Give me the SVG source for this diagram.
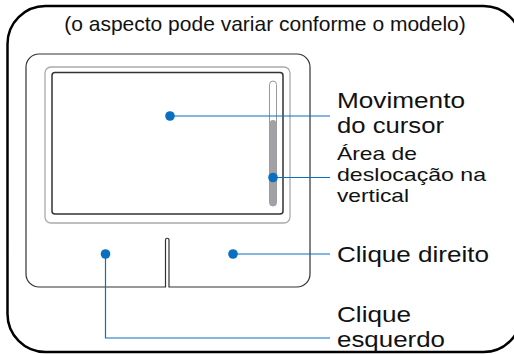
<svg xmlns="http://www.w3.org/2000/svg" width="514" height="354" viewBox="0 0 514 354">
<style>
.t{font-family:"Liberation Sans",Arial,sans-serif;fill:#111}
.big{font-size:22px}
.mid{font-size:18.5px}
.top{font-size:21px}
.c{stroke:#0b6fc0;stroke-width:1.2;fill:none}
.d{fill:#0b6fc0}
</style>
<rect x="0" y="0" width="514" height="354" fill="#fff"/>
<g id="frame">
<rect x="7.5" y="6" width="514" height="346" rx="38" fill="none" stroke="#000" stroke-width="2.5"/>
</g>
<text class="t top" x="265" y="31" text-anchor="middle">(o aspecto pode variar conforme o modelo)</text>
<g id="touchpad">
<path d="M165.5,287 V240 A1.75,1.75 0 0 1 169,240 V287 H297 A13,13 0 0 0 310,274 V67 A13,13 0 0 0 297,54 H39 A13,13 0 0 0 26,67 V274 A13,13 0 0 0 39,287 Z" fill="none" stroke="#333" stroke-width="1.2"/>
<rect x="45" y="67" width="245" height="156" rx="6" fill="none" stroke="#aaa" stroke-width="1.3"/>
<rect x="52" y="72.5" width="231" height="141.5" rx="3" fill="none" stroke="#333" stroke-width="1.5"/>
</g>
<g id="scrollbar">
<rect x="269.5" y="81" width="7" height="125" rx="3.5" fill="#fff" stroke="#999" stroke-width="1"/>
<rect x="269.5" y="120" width="7" height="86" rx="3.5" fill="#a2a2a6"/>
</g>
<g id="connectors">
<path class="c" d="M170,116 H330"/>
<path class="c" d="M273,177.5 H330"/>
<path class="c" d="M233,254 H330"/>
<path class="c" d="M105.5,254 V338 H330"/>
<circle class="d" cx="170" cy="116" r="4.8"/>
<circle class="d" cx="273" cy="177.5" r="4.8"/>
<circle class="d" cx="233" cy="254" r="4.8"/>
<circle class="d" cx="105.5" cy="254" r="4.8"/>
</g>
<g id="label-cursor">
<text class="t big" x="337" y="108" textLength="128" lengthAdjust="spacingAndGlyphs">Movimento</text>
<text class="t big" x="337" y="133" textLength="107" lengthAdjust="spacingAndGlyphs">do cursor</text>
</g>
<g id="label-scroll">
<text class="t mid" x="337" y="160" textLength="80" lengthAdjust="spacingAndGlyphs">Área de</text>
<text class="t mid" x="337" y="181" textLength="149" lengthAdjust="spacingAndGlyphs">deslocação na</text>
<text class="t mid" x="337" y="202" textLength="72" lengthAdjust="spacingAndGlyphs">vertical</text>
</g>
<g id="label-right">
<text class="t big" x="337" y="262" textLength="152" lengthAdjust="spacingAndGlyphs">Clique direito</text>
</g>
<g id="label-left">
<text class="t big" x="337" y="322" textLength="74" lengthAdjust="spacingAndGlyphs">Clique</text>
<text class="t big" x="337" y="347" textLength="108" lengthAdjust="spacingAndGlyphs">esquerdo</text>
</g>
</svg>
